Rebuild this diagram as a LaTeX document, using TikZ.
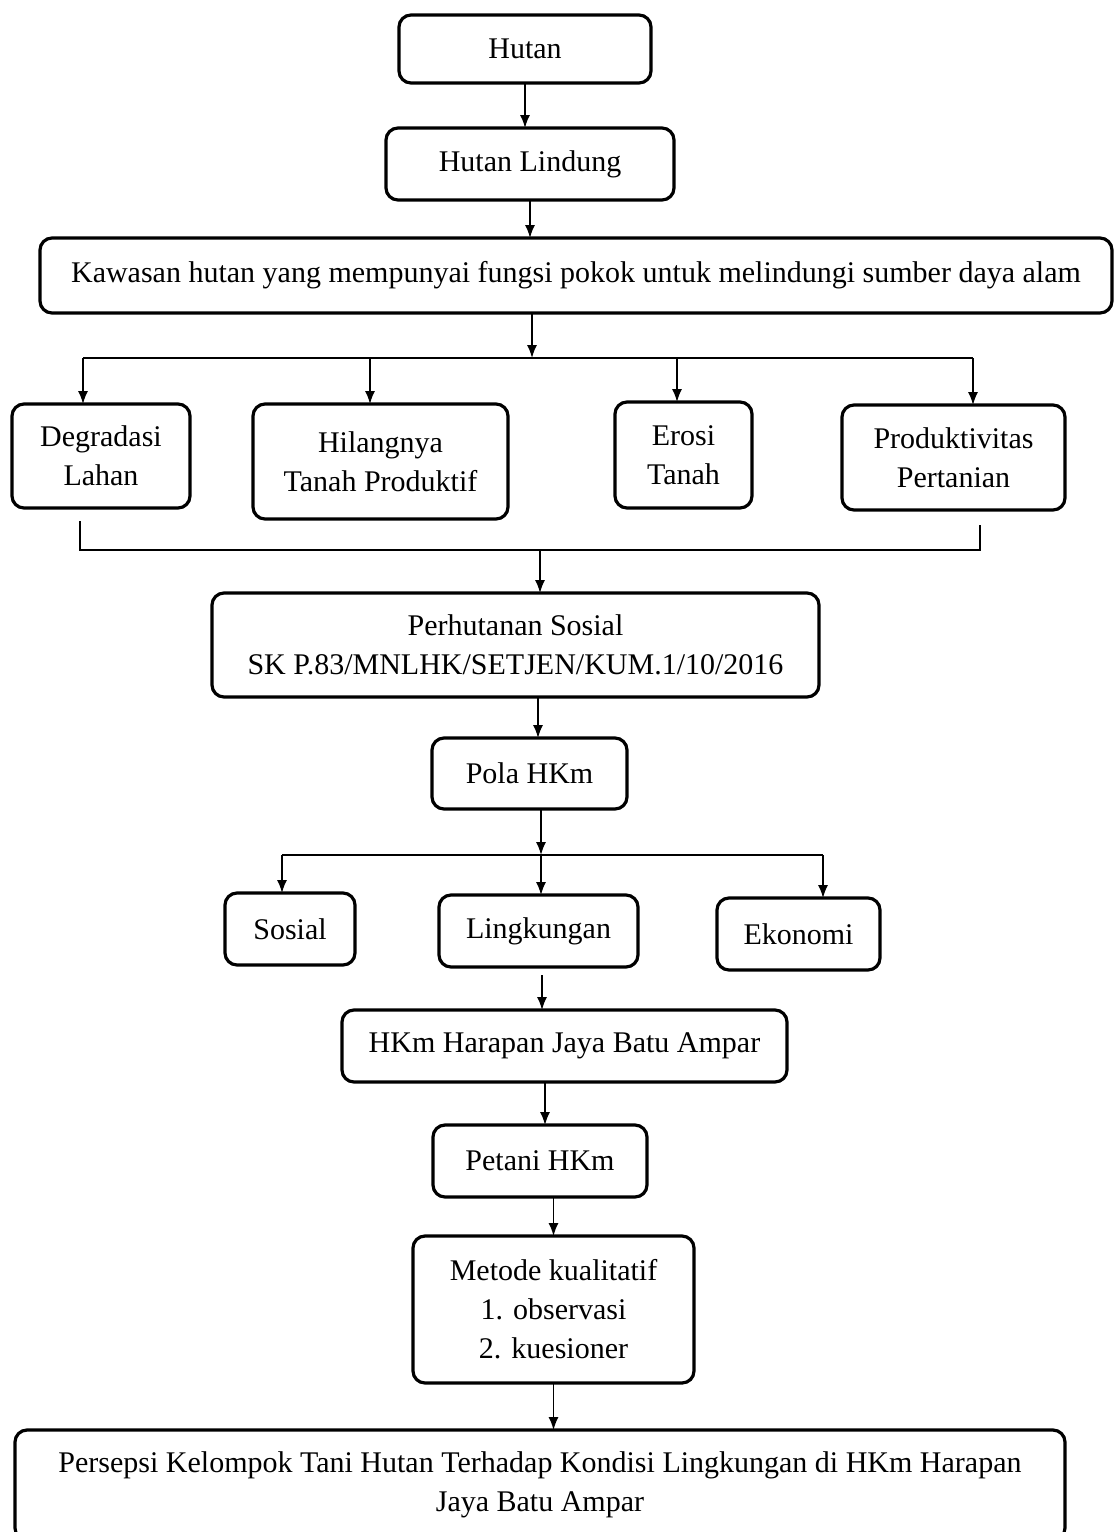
\documentclass[tikz,border=0pt]{standalone}
\usepackage{fontspec}
\setmainfont{Liberation Serif}
\usepackage{tikz}
\usetikzlibrary{arrows.meta,positioning,calc}
\tikzset{
    block/.style = {draw, rectangle, rounded corners=6pt, line width=1.6pt, inner sep=0pt, outer sep=0pt, align=center},
    link/.style = {line width=0.75pt},
}

\begin{document}
\begin{tikzpicture}[
    every node/.style={font=\fontsize{15}{19.5}\selectfont},
    >={Latex[length=6.5pt,width=5pt]}
]
\useasboundingbox (0,0) rectangle (557.5pt,-766pt);

% Top chain
\node[block, minimum width=126pt, minimum height=34pt] (hutan) at (262.5pt,-24.5pt) {Hutan};
\node[block, below=22.5pt of hutan, xshift=2.5pt, minimum width=144pt, minimum height=36pt] (lindung) {Hutan Lindung};
\node[block, below=19pt of lindung, xshift=23pt, minimum width=536pt, minimum height=37.5pt] (kawasan) {Kawasan hutan yang mempunyai fungsi pokok untuk melindungi sumber daya alam};

% Four impacts in one row
\node[block, below=45.5pt of kawasan.south west, anchor=north west, xshift=-14pt, minimum width=89pt, minimum height=52pt] (degradasi) {Degradasi\\Lahan};
\node[block, right=31.5pt of degradasi.north east, anchor=north west, minimum width=127.5pt, minimum height=57.5pt] (hilang) {Hilangnya\\Tanah Produktif};
\node[block, right=53.5pt of hilang.north east, anchor=north west, yshift=1pt, minimum width=68.5pt, minimum height=53pt] (erosi) {Erosi\\Tanah};
\node[block, right=45pt of erosi.north east, anchor=north west, yshift=-1.5pt, minimum width=111.5pt, minimum height=52.5pt] (produk) {Produktivitas\\Pertanian};

% Middle chain
\node[block, below=140pt of kawasan, xshift=-30.25pt, minimum width=303.5pt, minimum height=52pt] (perhutanan) {Perhutanan Sosial\\SK P.83/MNLHK/SETJEN/KUM.1/10/2016};
\node[block, below=20.5pt of perhutanan, xshift=7pt, minimum width=97.5pt, minimum height=35.5pt] (pola) {Pola HKm};

% Three aspects
\node[block, below=43pt of pola, xshift=4.5pt, minimum width=99.5pt, minimum height=36pt] (lingkungan) {Lingkungan};
\node[block, left=42pt of lingkungan.north west, anchor=north east, yshift=1pt, minimum width=65pt, minimum height=36pt] (sosial) {Sosial};
\node[block, right=39.5pt of lingkungan.north east, anchor=north west, yshift=-1.5pt, minimum width=81.5pt, minimum height=36pt] (ekonomi) {Ekonomi};

% Bottom chain
\node[block, below=21.5pt of lingkungan, xshift=13pt, minimum width=222.5pt, minimum height=36pt] (harapan) {HKm Harapan Jaya Batu Ampar};
\node[block, below=21.5pt of harapan, xshift=-12.25pt, minimum width=107pt, minimum height=36pt] (petani) {Petani HKm};
\node[block, below=19.5pt of petani, xshift=6.75pt, minimum width=140.5pt, minimum height=73.5pt] (metode) {Metode kualitatif\\1. observasi\\2. kuesioner};
\node[block, below=23.5pt of metode, xshift=-6.75pt, minimum width=525pt, minimum height=55pt] (persepsi) {Persepsi Kelompok Tani Hutan Terhadap Kondisi Lingkungan di HKm Harapan\\Jaya Batu Ampar};

% Arrows of the top chain
\draw[->, link] (hutan) -- (hutan |- lindung.north);
\draw[->, link] (lindung) -- (lindung |- kawasan.north);

% Split to the four impacts
\coordinate (split1) at ($(lindung |- kawasan.south)+(1pt,-22.5pt)$);
\coordinate (c1) at ($(degradasi.north)+(-9pt,0)$);
\coordinate (c2) at ($(hilang.north)+(-5.25pt,0)$);
\coordinate (c3) at ($(erosi.north)+(-3.25pt,0)$);
\coordinate (c4) at ($(produk.north)+(9.75pt,0)$);
\draw[->, link] (kawasan.south -| split1) -- (split1);
\draw[link] (split1 -| c1) -- (split1 -| c4);
\draw[->, link] (split1 -| c1) -- (c1);
\draw[->, link] (split1 -| c2) -- (c2);
\draw[->, link] (split1 -| c3) -- (c3);
\draw[->, link] (split1 -| c4) -- (c4);

% Join back to Perhutanan Sosial
\coordinate (join1) at ($(perhutanan.north)+(12.25pt,21.5pt)$);
\coordinate (m1) at ($(degradasi.south)+(-10.5pt,-6.5pt)$);
\coordinate (m4) at ($(produk.south)+(13.25pt,-7.5pt)$);
\draw[link] (m1) -- (m1 |- join1) -- (m4 |- join1) -- (m4);
\draw[->, link] (join1) -- (join1 |- perhutanan.north);

\coordinate (p1) at ($(pola.north)+(4.25pt,0)$);
\draw[->, link] (perhutanan.south -| p1) -- (p1);

% Split to the three aspects
\coordinate (split2) at ($(pola.south)+(5.75pt,-23pt)$);
\coordinate (s1) at ($(sosial.north)+(-4pt,0)$);
\coordinate (s2) at ($(lingkungan.north)+(1.25pt,0)$);
\coordinate (s3) at ($(ekonomi.north)+(12.25pt,0)$);
\draw[->, link] (pola.south -| split2) -- (split2);
\draw[link] (split2 -| s1) -- (split2 -| s3);
\draw[->, link] (split2 -| s1) -- (s1);
\draw[->, link] (split2 -| s2) -- (s2);
\draw[->, link] (split2 -| s3) -- (s3);

% Arrows of the bottom chain
\coordinate (h1) at ($(harapan.north)+(-11.25pt,0)$);
\draw[->, link, shorten <=4pt] (lingkungan.south -| h1) -- (h1);
\coordinate (t1) at ($(petani.north)+(2.5pt,0)$);
\draw[->, link] (harapan.south -| t1) -- (t1);
\draw[->, link] (petani.south -| metode.north) -- (metode.north);
\draw[->, link] (metode) -- (metode |- persepsi.north);

\end{tikzpicture}
\end{document}
